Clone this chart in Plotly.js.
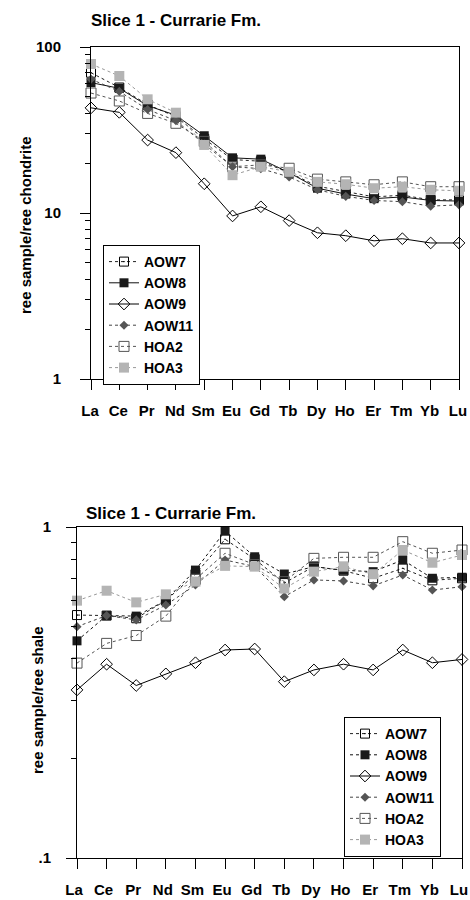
<!DOCTYPE html>
<html>
<head>
<meta charset="utf-8">
<script src="https://cdn.plot.ly/plotly-3.0.1.min.js"></script>
<style>html,body{margin:0;padding:0;background:#fff;}#chart{width:470px;height:900px;}</style>
</head>
<body>
<div id="chart"></div>
<script>
// REE elements (x categories)
const elements = ["La","Ce","Pr","Nd","Sm","Eu","Gd","Tb","Dy","Ho","Er","Tm","Yb","Lu"];
const seriesNames = ["AOW7","AOW8","AOW9","AOW11","HOA2","HOA3"];

// Chondrite-normalised values (top chart)
const chondrite_AOW7  = [70, 57, 45, 38, 28, 21, 20.5, 17.5, 14.5, 13.5, 12.5, 12.8, 12, 12];
const chondrite_AOW8  = [61, 56.4, 44.3, 38.8, 29.2, 21.5, 21.1, 17.5, 14.1, 13.0, 12.2, 12.5, 11.9, 11.8];
const chondrite_AOW9  = [43, 40.4, 27.5, 23.1, 15, 9.6, 10.9, 9.0, 7.6, 7.3, 6.8, 7.0, 6.6, 6.6];
const chondrite_AOW11 = [64, 54, 42, 36, 26, 19, 18.5, 16.5, 13.8, 12.6, 11.9, 11.7, 11.0, 11.2];
const chondrite_HOA2  = [52.8, 47.3, 39.8, 34.7, 27, 19, 19.5, 18.6, 16, 15.4, 14.8, 15.4, 14.4, 14.4];
const chondrite_HOA3  = [79, 66.9, 48.4, 40.2, 25.7, 16.9, 19, 17.7, 15.4, 14.9, 14.1, 14.4, 13.8, 13.6];

// Shale-normalised values (bottom chart)
const shale_AOW7  = [0.542, 0.54, 0.53, 0.60, 0.72, 0.918, 0.80, 0.677, 0.76, 0.738, 0.70, 0.75, 0.69, 0.70];
const shale_AOW8  = [0.453, 0.54, 0.538, 0.60, 0.741, 0.972, 0.813, 0.721, 0.759, 0.74, 0.733, 0.795, 0.70, 0.705];
const shale_AOW9  = [0.322, 0.385, 0.332, 0.36, 0.389, 0.425, 0.428, 0.341, 0.37, 0.385, 0.37, 0.425, 0.389, 0.398];
const shale_AOW11 = [0.50, 0.54, 0.524, 0.581, 0.668, 0.795, 0.76, 0.616, 0.692, 0.687, 0.664, 0.716, 0.645, 0.66];
const shale_HOA2  = [0.388, 0.445, 0.47, 0.538, 0.695, 0.833, 0.77, 0.684, 0.804, 0.81, 0.81, 0.903, 0.833, 0.852];
const shale_HOA3  = [0.599, 0.642, 0.592, 0.626, 0.684, 0.763, 0.759, 0.652, 0.733, 0.759, 0.72, 0.852, 0.78, 0.823];

const topTickVals = [1, 10, 100];
const topTickText = ["1", "10", "100"];
const botTickVals = [0.1, 1];
const botTickText = [".1", "1"];

const chartTitle = "Slice 1 - Currarie Fm.";
const yTitleTop = "ree sample/ree chondrite";
const yTitleBot = "ree sample/ree shale";

const FONT = "Liberation Sans, Arial, Helvetica, sans-serif";

const styles = {
  AOW7:  {marker:{symbol:"square-open-dot", size:9, color:"#000", line:{width:1}}, lineTop:{color:"#222", width:1, dash:"dot"}, lineBot:{color:"#222", width:1, dash:"dot"}},
  AOW8:  {marker:{symbol:"square", size:9, color:"#1a1a1a"}, lineTop:{color:"#111", width:1, dash:"solid"}, lineBot:{color:"#111", width:1, dash:"dot"}},
  AOW9:  {marker:{symbol:"diamond-open", size:9, color:"#000", line:{width:1}}, lineTop:{color:"#000", width:1, dash:"solid"}, lineBot:{color:"#000", width:1, dash:"solid"}},
  AOW11: {marker:{symbol:"diamond", size:7, color:"#555"}, lineTop:{color:"#444", width:1, dash:"dot"}, lineBot:{color:"#444", width:1, dash:"dot"}},
  HOA2:  {marker:{symbol:"square-open", size:10, color:"#555", line:{width:1}}, lineTop:{color:"#555", width:1, dash:"dot"}, lineBot:{color:"#555", width:1, dash:"dot"}},
  HOA3:  {marker:{symbol:"square", size:10, color:"#b4b4b4"}, lineTop:{color:"#999", width:1, dash:"dot"}, lineBot:{color:"#999", width:1, dash:"dot"}}
};

const topData = {AOW7:chondrite_AOW7, AOW8:chondrite_AOW8, AOW9:chondrite_AOW9, AOW11:chondrite_AOW11, HOA2:chondrite_HOA2, HOA3:chondrite_HOA3};
const botData = {AOW7:shale_AOW7, AOW8:shale_AOW8, AOW9:shale_AOW9, AOW11:shale_AOW11, HOA2:shale_HOA2, HOA3:shale_HOA3};

const traces = [];
seriesNames.forEach(n => {
  traces.push({type:"scatter", mode:"lines+markers", name:n, x:elements, y:topData[n],
    xaxis:"x", yaxis:"y", legend:"legend", cliponaxis:false,
    marker:styles[n].marker, line:styles[n].lineTop});
});
seriesNames.forEach(n => {
  traces.push({type:"scatter", mode:"lines+markers", name:n, x:elements, y:botData[n],
    xaxis:"x2", yaxis:"y2", legend:"legend2", cliponaxis:false,
    marker:styles[n].marker, line:styles[n].lineBot});
});

const W = 470, H = 900;
const px = v => v / W;
const py = v => 1 - v / H;

const xCommon = {type:"category", categoryorder:"array", categoryarray:elements, range:[0,13],
  showline:true, mirror:true, linecolor:"#000", linewidth:1, ticks:"outside", ticklen:10, tickcolor:"#000",
  showgrid:false, zeroline:false, ticklabelstandoff:8, ticklabelshift:-3,
  tickfont:{family:FONT, size:15, color:"#000", weight:"bold"}};
const yCommon = {type:"log", showline:true, mirror:true, linecolor:"#000", linewidth:1,
  ticks:"outside", ticklen:10, tickcolor:"#000", showgrid:false, zeroline:false, tickmode:"array",
  ticklabelstandoff:16,
  minor:{ticks:"outside", ticklen:5, tickcolor:"#000", dtick:"D1", showgrid:false},
  tickfont:{family:FONT, size:15, color:"#000", weight:"bold"}};

const layout = {
  width:W, height:H, margin:{l:0, r:0, t:0, b:0}, paper_bgcolor:"#fff", plot_bgcolor:"#fff",
  font:{family:FONT, color:"#000"},
  xaxis: Object.assign({}, xCommon, {domain:[px(91), px(459)], anchor:"y", ticklabelshift:-1}),
  yaxis: Object.assign({}, yCommon, {domain:[py(379), py(47)], anchor:"x", range:[0, 2], tickvals:topTickVals, ticktext:topTickText}),
  xaxis2: Object.assign({}, xCommon, {domain:[px(77), px(462)], anchor:"y2"}),
  yaxis2: Object.assign({}, yCommon, {domain:[py(858), py(527)], anchor:"x2", range:[-1, 0], tickvals:botTickVals, ticktext:botTickText, ticklabelstandoff:12}),
  legend: {x:px(103), y:py(245), xanchor:"left", yanchor:"top", bgcolor:"#fff", bordercolor:"#000", borderwidth:1,
    font:{family:FONT, size:14, color:"#000", weight:"bold"}, tracegroupgap:0, itemwidth:30},
  legend2: {x:px(344), y:py(717), xanchor:"left", yanchor:"top", bgcolor:"#fff", bordercolor:"#000", borderwidth:1,
    font:{family:FONT, size:14, color:"#000", weight:"bold"}, tracegroupgap:0, itemwidth:30},
  showlegend:true,
  annotations:[
    {text:chartTitle, xref:"paper", yref:"paper", x:px(89), y:py(20), xanchor:"left", yanchor:"middle", showarrow:false,
      font:{family:FONT, size:17, color:"#000", weight:"bold"}},
    {text:chartTitle, xref:"paper", yref:"paper", x:px(84), y:py(513), xanchor:"left", yanchor:"middle", showarrow:false,
      font:{family:FONT, size:17, color:"#000", weight:"bold"}},
    {text:yTitleTop, xref:"paper", yref:"paper", x:px(25), y:py(225), xanchor:"center", yanchor:"middle", textangle:-90, showarrow:false,
      font:{family:FONT, size:15, color:"#000", weight:"bold"}},
    {text:yTitleBot, xref:"paper", yref:"paper", x:px(37), y:py(700), xanchor:"center", yanchor:"middle", textangle:-90, showarrow:false,
      font:{family:FONT, size:15, color:"#000", weight:"bold"}}
  ]
};

Plotly.newPlot("chart", traces, layout, {displayModeBar:false, staticPlot:true});
</script>
</body>
</html>
